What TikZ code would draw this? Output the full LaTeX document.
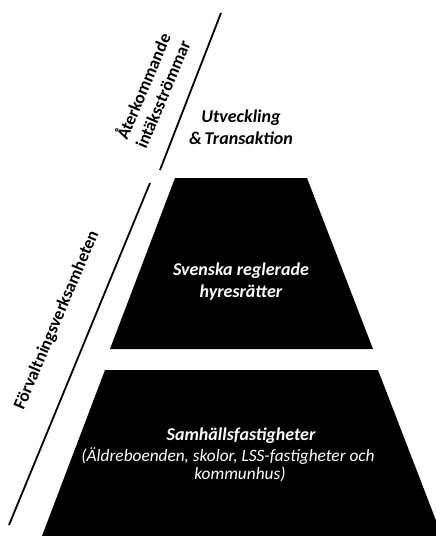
\documentclass[tikz,border=0pt]{standalone}
\usepackage{fontspec}
\setmainfont{Carlito}
\begin{document}
\begin{tikzpicture}[x=1pt,y=-1pt,
  sideline/.style={line width=1.8pt},
  sidelabel/.style={font=\fontsize{17.5}{21}\selectfont\bfseries, align=center, inner sep=0pt},
  boxlabel/.style={font=\fontsize{18}{22}\selectfont\bfseries\itshape, align=center, inner sep=0pt},
  sublabel/.style={font=\fontsize{17.3}{18.5}\selectfont\itshape, align=center, inner sep=0pt}]
\useasboundingbox (0,0) rectangle (436,536);
\clip (0,0) rectangle (436,536);
% trapezoids
\fill[black] (175,178) -- (307,178) -- (373,349) -- (110,349) -- cycle;
\fill[black] (105,370) -- (378,370) -- (442,536) -- (42,536) -- cycle;
% side lines
\coordinate (l1a) at (221,13);
\coordinate (l1b) at (160,170);
\coordinate (l2a) at (150,183);
\coordinate (l2b) at (9,525);
\draw[sideline] (l1a) -- (l1b);
\draw[sideline] (l2a) -- (l2b);
% labels
\node[sidelabel, rotate=67] (ater) at (152,90) {Återkommande\\intäksströmmar};
\node[sidelabel, rotate=67] (forv) at (57,320) {Förvaltningsverksamheten};
\node[boxlabel] (utv) at (241,127) {Utveckling\\\&\,Transaktion};
\node[boxlabel, text=white] (sven) at (241,282) {Svenska reglerade\\hyresrätter};
\node[boxlabel, text=white] (samh) at (241,436) {Samhällsfastigheter};
\node[sublabel, text=white] (samhsub1) at (228,456) {(Äldreboenden, skolor, LSS-fastigheter och};
\node[sublabel, text=white] (samhsub2) at (240,474) {kommunhus)};
\end{tikzpicture}
\end{document}
